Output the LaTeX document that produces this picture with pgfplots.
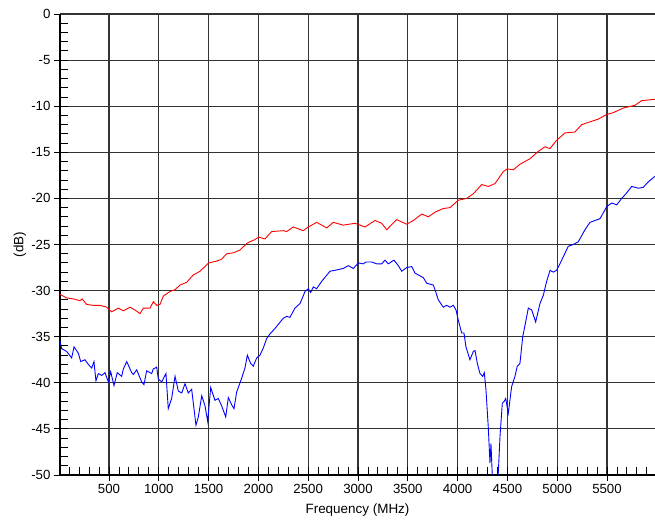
\documentclass[border=0pt]{standalone}
\usepackage{pgfplots}
\pgfplotsset{compat=1.18}
\usepackage{fontspec}
\setmainfont{Liberation Sans}
\begin{document}
\begin{tikzpicture}
\begin{axis}[
  scale only axis, width=595bp, height=461bp,
  xmin=8, xmax=5982, ymin=-50, ymax=0,
  axis x line*=bottom, axis y line*=left,
  axis line style={-, black, line width=1.1bp},
  xtick={500,1000,...,5500},
  xticklabels={500,1000,1500,2000,2500,3000,3500,4000,4500,5000,5500},
  ytick={-50,-45,...,0},
  yticklabels={-50,-45,-40,-35,-30,-25,-20,-15,-10,-5,0},
  minor xtick={100,200,...,5900},
  minor ytick={-49,-48,...,-1},
  tick align=outside,
  major tick length=6bp, minor tick length=8bp,
  tick style={black, line width=0.9bp},
  minor x tick style={yshift=8bp},
  minor y tick style={xshift=8bp},
  grid=major,
  major grid style={black!80, line width=1.1bp},
  tick label style={font=\fontsize{13.3}{15}\selectfont},
  xlabel={Frequency (MHz)}, ylabel={(dB)},
  every axis x label/.style={at={(axis description cs:0.5,0)}, yshift=-35bp, anchor=center, font=\fontsize{13.5}{15}\selectfont},
  every axis y label/.style={at={(axis description cs:0,0.5)}, xshift=-40bp, rotate=90, anchor=center, font=\fontsize{13.5}{15}\selectfont},
  clip=true,
]
\addplot[red, line width=0.9bp] coordinates {
(8,-30.4) (75,-30.8) (142,-30.9) (209,-31.1) (230,-30.9) (276,-31.5) (343,-31.6) (410,-31.6) (477,-31.8) (527,-32.3) (594,-31.9) (644,-32.2) (711,-31.8) (761,-32.1) (811,-32.5) (845,-31.9) (912,-31.9) (945,-31.2) (979,-31.6) (1012,-31.5) (1045,-30.6) (1112,-30.1) (1163,-29.9) (1213,-29.4) (1280,-29.1) (1347,-28.3) (1414,-27.9) (1500,-27.0) (1581,-26.8) (1630,-26.6) (1682,-26.0) (1750,-25.9) (1815,-25.6) (1882,-24.9) (1915,-24.7) (1960,-24.5) (2003,-24.2) (2066,-24.4) (2133,-23.6) (2250,-23.5) (2284,-23.6) (2350,-23.1) (2451,-23.5) (2501,-23.1) (2585,-22.6) (2686,-23.2) (2752,-22.6) (2852,-22.9) (2970,-22.7) (3070,-23.1) (3171,-22.4) (3238,-22.7) (3288,-23.4) (3388,-22.3) (3489,-22.8) (3555,-22.4) (3640,-21.7) (3706,-22.0) (3773,-21.5) (3856,-21.1) (3924,-21.0) (4007,-20.2) (4091,-20.0) (4158,-19.5) (4242,-18.5) (4308,-18.7) (4375,-18.4) (4459,-17.1) (4499,-16.8) (4559,-16.9) (4626,-16.3) (4727,-15.7) (4810,-14.9) (4877,-14.4) (4927,-14.6) (4994,-13.7) (5078,-12.9) (5178,-12.8) (5246,-12.0) (5329,-11.7) (5413,-11.4) (5497,-10.9) (5563,-10.7) (5664,-10.2) (5781,-9.9) (5848,-9.4) (5981,-9.25)
};
\addplot[blue, line width=0.9bp] coordinates {
(8,-35.5) (25,-36.3) (75,-36.6) (125,-37.3) (149,-36.1) (192,-36.8) (216,-37.7) (259,-37.5) (292,-38.0) (326,-38.4) (349,-37.7) (369,-39.8) (393,-39.0) (427,-39.2) (460,-38.9) (493,-39.9) (517,-38.8) (550,-40.3) (583,-38.9) (627,-39.3) (644,-38.5) (678,-37.7) (728,-38.9) (744,-39.1) (778,-38.6) (828,-39.9) (851,-40.2) (878,-38.7) (929,-39.0) (945,-38.5) (979,-38.3) (995,-39.6) (1029,-39.9) (1072,-39.0) (1095,-42.8) (1129,-41.7) (1163,-39.3) (1196,-40.9) (1230,-41.1) (1263,-40.1) (1296,-41.1) (1330,-40.7) (1373,-44.6) (1397,-43.7) (1431,-41.4) (1464,-42.5) (1491,-44.2) (1521,-40.5) (1564,-41.9) (1597,-41.7) (1631,-42.5) (1672,-43.7) (1698,-41.6) (1732,-42.4) (1755,-42.8) (1782,-41.0) (1832,-39.5) (1865,-38.4) (1889,-37.0) (1922,-37.9) (1949,-38.2) (1983,-37.3) (2016,-37.0) (2050,-36.2) (2083,-35.2) (2116,-34.7) (2167,-34.1) (2250,-33.0) (2284,-32.8) (2317,-32.9) (2367,-31.9) (2418,-31.4) (2468,-30.1) (2501,-29.8) (2525,-30.2) (2551,-29.6) (2585,-29.8) (2635,-29.0) (2719,-27.9) (2769,-27.8) (2852,-27.6) (2903,-27.3) (2953,-27.6) (3003,-27.0) (3053,-27.1) (3080,-26.9) (3137,-26.9) (3188,-27.1) (3238,-27.1) (3271,-26.7) (3304,-27.1) (3361,-26.7) (3405,-27.3) (3439,-27.9) (3489,-27.5) (3539,-27.4) (3572,-28.1) (3622,-28.4) (3656,-28.6) (3690,-29.2) (3756,-29.4) (3773,-29.9) (3806,-31.0) (3856,-31.8) (3890,-31.6) (3924,-31.8) (3957,-31.6) (3984,-32.1) (4007,-33.2) (4041,-34.6) (4064,-34.6) (4084,-36.1) (4124,-37.5) (4158,-36.6) (4175,-36.5) (4198,-37.9) (4225,-39.0) (4252,-39.3) (4268,-38.9) (4285,-40.8) (4308,-44.8) (4325,-48.7) (4335,-46.6) (4352,-51) (4399,-51) (4409,-49.7) (4426,-45.8) (4449,-42.2) (4469,-42.0) (4483,-41.7) (4509,-43.3) (4543,-40.4) (4576,-39.3) (4599,-38.2) (4626,-37.9) (4654,-35.0) (4687,-33.2) (4710,-31.9) (4744,-32.1) (4784,-33.4) (4827,-31.4) (4861,-30.5) (4894,-29.0) (4928,-27.8) (4961,-28.0) (4994,-27.8) (5045,-26.7) (5111,-25.2) (5162,-25.0) (5212,-24.7) (5279,-23.4) (5329,-22.6) (5379,-22.4) (5430,-22.2) (5497,-20.9) (5547,-20.5) (5597,-20.7) (5648,-20.0) (5698,-19.4) (5748,-18.7) (5815,-18.9) (5865,-18.8) (5915,-18.2) (5982,-17.6)
};
\end{axis}
\pgfresetboundingbox
\useasboundingbox ([xshift=-60bp,yshift=-48bp]current axis.south west) rectangle ([yshift=14bp]current axis.north east);
\end{tikzpicture}
\end{document}
